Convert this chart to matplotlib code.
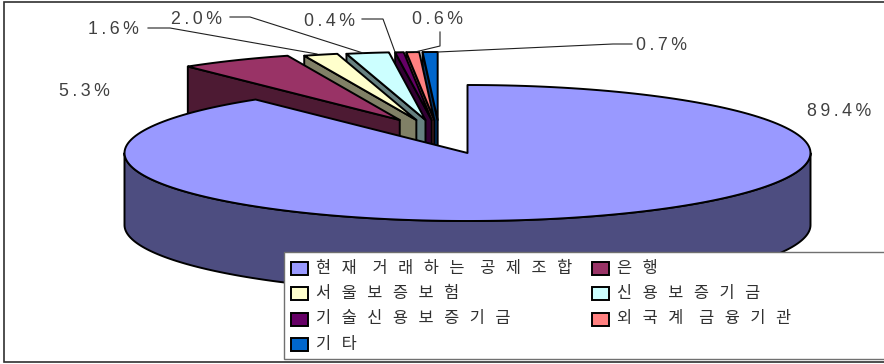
import numpy as np
import matplotlib
matplotlib.use('Agg')
import matplotlib.pyplot as plt
from matplotlib.patches import Polygon, Rectangle

# datos del grafico
labels = ['현재 거래하는 공제조합', '은행', '서울보증보험', '신용보증기금',
          '기술신용보증기금', '외국계 금융기관', '기타']
values = [89.4, 5.3, 1.6, 2.0, 0.4, 0.6, 0.7]
pct_labels = ['89.4%', '5.3%', '1.6%', '2.0%', '0.4%', '0.6%', '0.7%']

colors = ['#9999FF', '#993366', '#FFFFCC', '#CCFFFF', '#660066', '#FF8080', '#0066CC']
side_colors = ['#4D4D80', '#4D1A33', '#808066', '#668080', '#330033', '#804040', '#003366']

# geometria del pastel, en pixeles
cx, cy = 467.5, 153
rx, ry = 343, 68
depth = 72
spread = 83
shift_x, shift_y = -28, -33

# donde va cada porcentaje y su linea guia
pct_pos = [(807, 112), (59, 91), (88, 30), (171, 20), (304, 21), (412, 20), (636, 45)]
leaders = [None, None,
           [(148, 28), (170, 28), (317, 54)],
           [(230, 17), (250, 17), (363, 53)],
           [(362, 19), (383, 19), (395, 52)],
           [(440, 32), (440, 46), (415, 52)],
           [(438, 52), (613, 44), (632, 44)]]

plt.rcParams['font.family'] = ['DejaVu Sans', 'Noto Sans CJK KR']

fig = plt.figure(figsize=(8.84, 3.64), dpi=100)
ax = fig.add_axes([0, 0, 1, 1])
ax.set_xlim(0, 884)
ax.set_ylim(364, 0)
ax.axis('off')


def arc(x0, y0, a0, a1):
  t = np.radians(np.linspace(a0, a1, 200))
  return np.column_stack([x0 + rx * np.sin(t), y0 - ry * np.cos(t)])


def spaced(text):
  # las letras van separadas como en el original
  return '   '.join('  '.join(word) for word in text.split(' '))


def shape(points, color, z):
  ax.add_patch(Polygon(points, closed=True, facecolor=color, edgecolor='black',
                       linewidth=1.4, joinstyle='round', zorder=z))


ax.add_patch(Rectangle((4, 2), 885, 360, facecolor='white', edgecolor='#303030',
                       linewidth=1.2, zorder=0))

edges = np.concatenate([[0], np.cumsum(values)]) / sum(values) * 360

# primero las porciones separadas, de derecha a izquierda
z = 1
for i in range(len(values) - 1, 0, -1):
  a0, a1 = edges[i], edges[i + 1]
  mid = np.radians((a0 + a1) / 2)
  x0 = cx + shift_x + spread * np.sin(mid)
  y0 = cy + shift_y
  top = arc(x0, y0, a0, a1)
  face = [top[0], (x0, y0), (x0, y0 + depth), (top[0][0], top[0][1] + depth)]
  shape(face, side_colors[i], z)
  shape(np.vstack([[(x0, y0)], top]), colors[i], z + 1)
  z += 2

# porcion grande
front = arc(cx, cy, 90, 270)
shape(np.vstack([front, front[::-1] + [0, depth]]), side_colors[0], z)
shape(np.vstack([[(cx, cy)], arc(cx, cy, edges[0], edges[1])]), colors[0], z + 1)

# porcentajes y lineas guia
for i in range(len(values)):
  x, y = pct_pos[i]
  ax.text(x, y, '\u2009'.join(pct_labels[i]), fontsize=12.8, color='#404040', va='center',
          ha='left', family=['Liberation Sans', 'DejaVu Sans'], zorder=30)
  if leaders[i]:
    ax.plot(*zip(*leaders[i]), color='#202020', linewidth=0.8, zorder=30)

# leyenda hecha a mano para dejarla como en el original
ax.add_patch(Rectangle((284, 252), 610, 107, facecolor='white', edgecolor='#707070',
                       linewidth=1.0, zorder=40))
rows = [268, 293.5, 319, 344]
cols = [291, 592]
for i in range(len(labels)):
  x = cols[i % 2]
  y = rows[i // 2]
  ax.add_patch(Rectangle((x, y - 6.5), 17, 13, facecolor=colors[i], edgecolor='black',
                         linewidth=1.4, zorder=41))
  ax.text(x + 25, y, spaced(labels[i]), fontsize=11.8, color='#303030', va='center',
          ha='left', zorder=41)

plt.savefig('out.png', dpi=100)
plt.close()
